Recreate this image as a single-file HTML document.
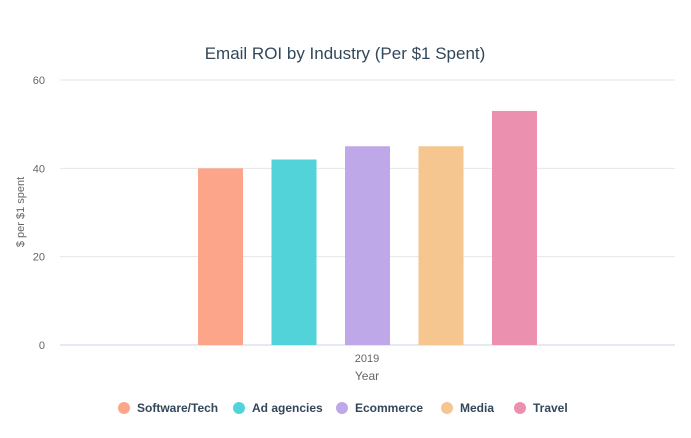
<!DOCTYPE html>
<html><head><meta charset="utf-8"><style>
body{margin:0;background:#fff;width:691px;height:433px;overflow:hidden;font-family:"Liberation Sans",sans-serif}
</style></head><body>
<svg id="c" width="691" height="433" xmlns="http://www.w3.org/2000/svg"></svg>
<script>
const categories=["Software/Tech","Ad agencies","Ecommerce","Media","Travel"];
const values=[40,42,45,45,53];
const colors=["#fda58b","#51d3d9","#bea8e8","#f5c68f","#ec90af"];
const yTicks=[0,20,40,60];
const xLabel=["2019"];
const legendX=[124,239,342,447,520];
const svg=document.getElementById('c');
const NS="http://www.w3.org/2000/svg";
function mk(t,a,txt){const e=document.createElementNS(NS,t);for(const k in a)e.setAttribute(k,a[k]);if(txt!=null)e.textContent=txt;svg.appendChild(e);return e;}
const y0=345,yTop=80,yMax=60;
const y=v=>y0-(v/yMax)*(y0-yTop);
const barW=45,barStart=198,barStep=73.5;
const x=i=>barStart+i*barStep;
let t=mk('text',{x:345,y:59,'text-anchor':'middle','font-size':17,fill:'#33475b'},"Email ROI by Industry (Per $1 Spent)");

yTicks.forEach(v=>{
 let l=mk('line',{x1:60,x2:675,y1:y(v),y2:y(v),stroke:v===0?'#c8d3e6':'#e6e6e6','stroke-width':1});
 
 let tx=mk('text',{x:45,y:y(v)+4,'text-anchor':'end','font-size':11,fill:'#666'},String(v));
 
});
let yt=mk('text',{x:0,y:0,transform:'translate(24,212) rotate(-90)','text-anchor':'middle','font-size':11,fill:'#666'},"$ per $1 spent");

values.forEach((v,i)=>{
 let r=mk('rect',{x:x(i),y:y(v),width:barW,height:y0-y(v),fill:colors[i]});
 
 
});
let xl=mk('text',{x:367,y:362,'text-anchor':'middle','font-size':11,fill:'#666'},xLabel[0]);

let xt=mk('text',{x:367,y:380,'text-anchor':'middle','font-size':12,fill:'#666'},"Year");

categories.forEach((c,i)=>{
 let ci=mk('circle',{cx:legendX[i],cy:408,r:6,fill:colors[i]});
 
 let lt=mk('text',{x:legendX[i]+13,y:412,'font-size':12,'font-weight':'bold',fill:'#33475b'},c);
 
});
</script>
</body></html>
